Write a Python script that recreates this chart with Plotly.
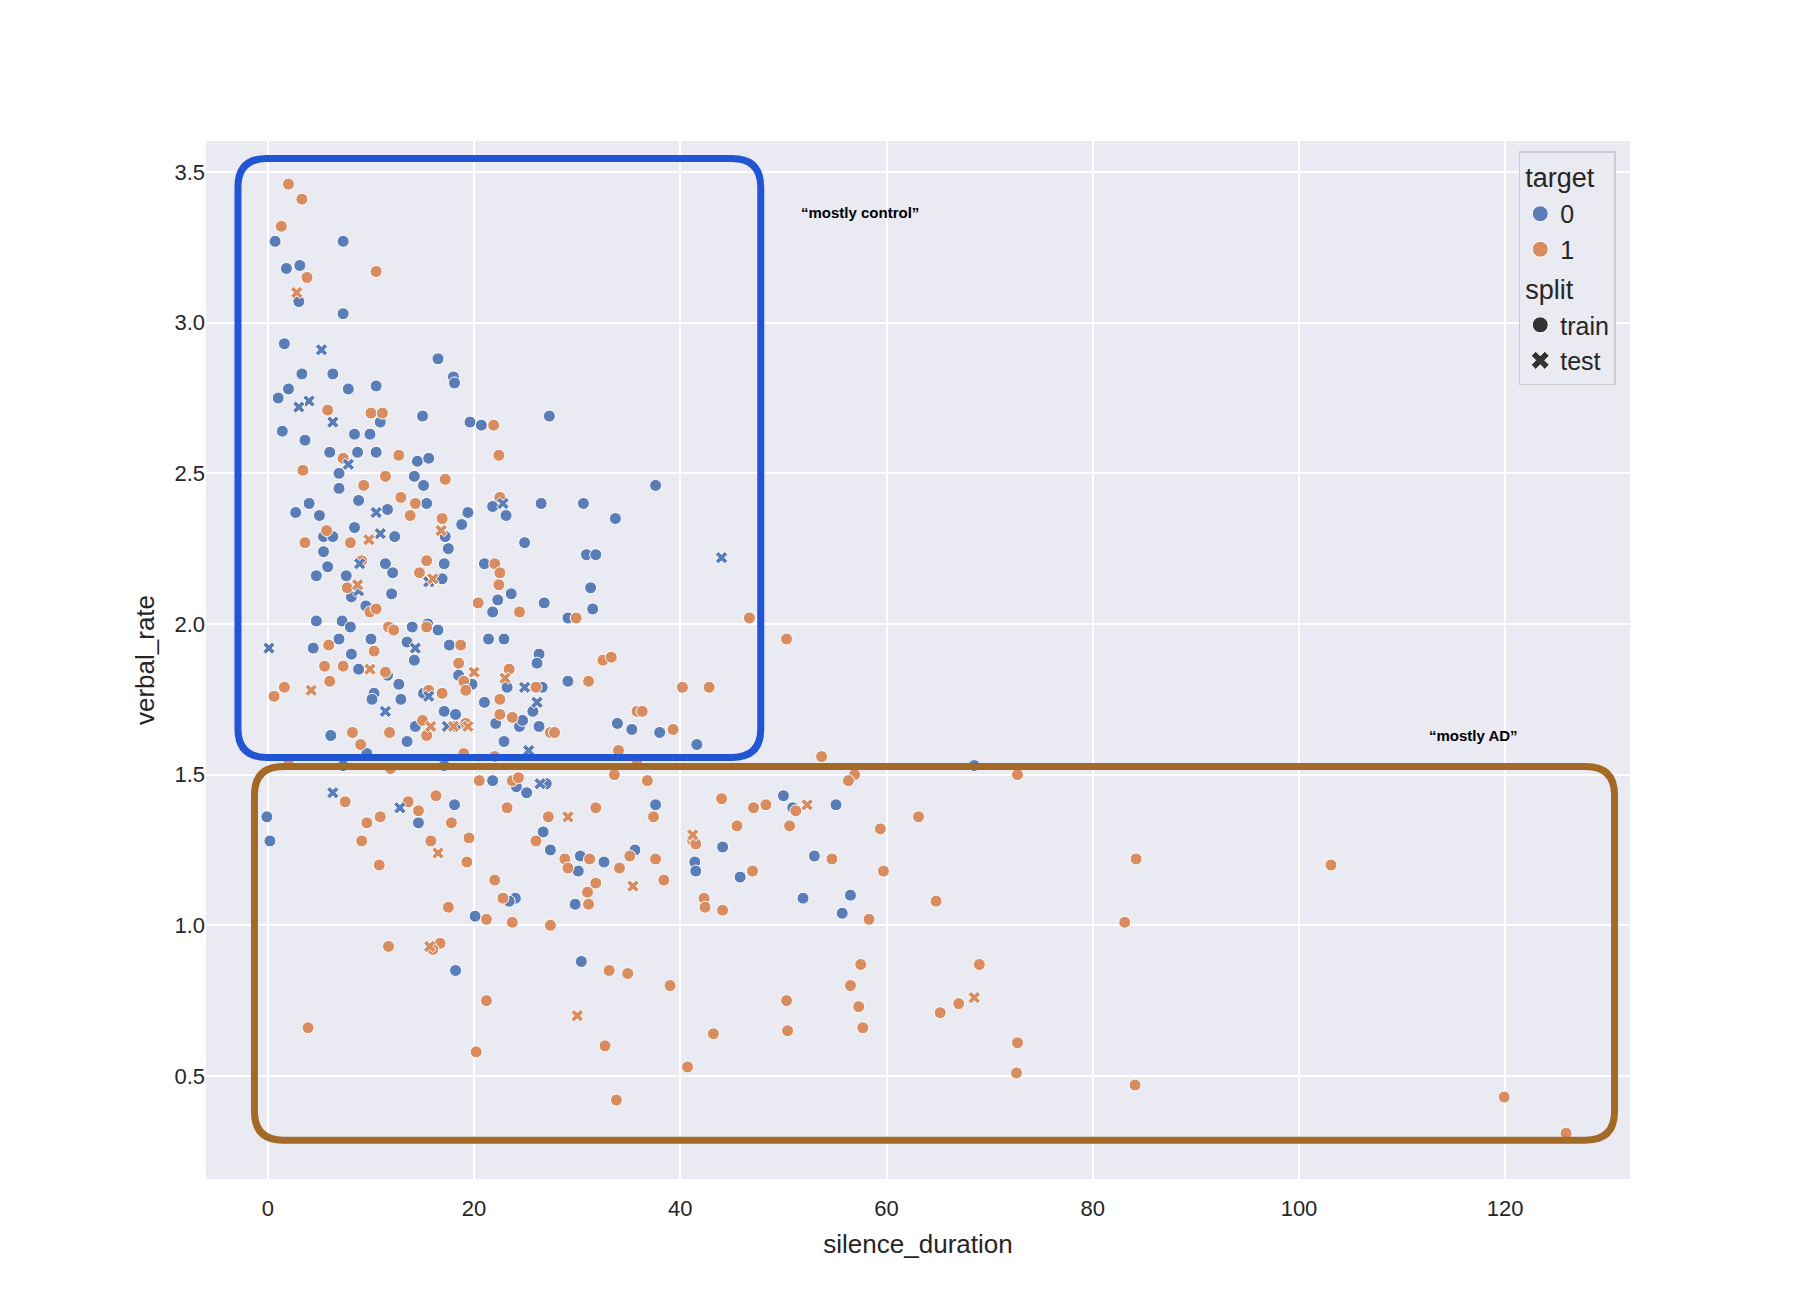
import plotly.graph_objects as go

# target 0, split train
t0_train_x = [0.7, 1.8, 3.1, 3.0, 7.3, 7.3, 1.6, 3.3, 6.3, 2.0, 1.0, 7.8, 10.5, 16.5, 18.0, 18.1, 1.4, 3.6,
              19.6, 20.7, 27.3, 15.0, 10.9, 8.4, 9.9, 6.0, 8.7, 10.5, 6.9, 14.5, 15.6, 6.9, 14.2, 15.1, 37.6,
              2.7, 4.0, 5.0, 8.8, 11.6, 15.4, 19.4, 26.5, 30.6, 33.7, 23.1, 21.8, 18.8, 5.4, 6.3, 8.4, 12.3,
              17.2, 17.5, 24.9, 30.9, 31.8, 5.4, 11.4, 17.1, 21.0, 5.8, 4.7, 7.6, 12.1, 16.9, 31.3, 12.0, 23.6,
              8.1, 22.3, 26.8, 9.5, 31.5, 21.8, 29.1, 4.7, 7.2, 14.0, 15.5, 8.0, 16.5, 6.9, 10.0, 21.4, 22.9,
              4.4, 13.5, 17.6, 8.1, 26.3, 14.2, 26.1, 8.8, 11.6, 18.5, 29.1, 12.7, 10.3, 19.8, 23.2, 26.6,
              10.1, 12.9, 15.1, 21.0, 25.7, 33.9, 17.1, 18.2, 18.2, 22.1, 24.4, 35.3, 22.9, 6.1, 13.5, 24.7,
              38.0, 41.6, 9.6, 14.3, 26.3, 7.3, 17.1, 68.5, 21.8, 24.1, 27.0, 25.1, 37.6, -0.1, 0.2, 18.1,
              14.6, 26.7, 27.4, 50.0, 50.9, 55.1, 35.6, 30.3, 32.6, 44.1, 53.0, 41.4, 41.5, 45.8, 30.1, 56.5,
              51.9, 24.0, 23.4, 29.8, 20.1, 55.7, 30.4, 18.2]
t0_train_y = [3.27, 3.18, 3.19, 3.07, 3.27, 3.03, 2.93, 2.83, 2.83, 2.78, 2.75, 2.78, 2.79, 2.88, 2.82, 2.80, 2.64, 2.61,
              2.67, 2.66, 2.69, 2.69, 2.67, 2.63, 2.63, 2.57, 2.57, 2.57, 2.50, 2.54, 2.55, 2.45, 2.49, 2.46, 2.46,
              2.37, 2.40, 2.36, 2.41, 2.38, 2.40, 2.37, 2.40, 2.40, 2.35, 2.36, 2.39, 2.33, 2.29, 2.29, 2.32, 2.29,
              2.29, 2.25, 2.27, 2.23, 2.23, 2.24, 2.20, 2.20, 2.20, 2.19, 2.16, 2.16, 2.17, 2.15, 2.12, 2.10, 2.10,
              2.09, 2.08, 2.07, 2.06, 2.05, 2.04, 2.02, 2.01, 2.01, 1.99, 2.00, 1.99, 1.98, 1.95, 1.95, 1.95, 1.95,
              1.92, 1.94, 1.93, 1.90, 1.90, 1.88, 1.87, 1.85, 1.83, 1.83, 1.81, 1.80, 1.77, 1.80, 1.79, 1.79,
              1.75, 1.75, 1.77, 1.74, 1.71, 1.67, 1.71, 1.70, 1.66, 1.67, 1.66, 1.65, 1.61, 1.63, 1.61, 1.68,
              1.64, 1.60, 1.57, 1.66, 1.66, 1.53, 1.53, 1.53, 1.48, 1.46, 1.47, 1.44, 1.40, 1.36, 1.28, 1.40,
              1.34, 1.31, 1.25, 1.43, 1.39, 1.40, 1.25, 1.23, 1.21, 1.26, 1.23, 1.21, 1.18, 1.16, 1.18, 1.10,
              1.09, 1.09, 1.08, 1.07, 1.03, 1.04, 0.88, 0.85]

# target 1, split train
t1_train_x = [2.0, 3.3, 1.3, 3.8, 10.5, 5.8, 10.0, 11.1, 21.9, 22.4, 12.7, 7.3, 3.4, 9.3, 11.4, 17.2, 12.9, 14.3,
              22.5, 13.8, 16.9, 3.6, 8.0, 5.7, 9.1, 15.4, 22.0, 14.7, 22.5, 22.4, 7.7, 20.4, 24.4, 9.9, 10.5,
              29.9, 46.7, 50.3, 11.7, 12.2, 15.4, 5.9, 5.5, 10.3, 7.3, 18.7, 18.5, 23.4, 32.5, 33.3, 31.1, 40.2,
              42.8, 6.0, 1.6, 0.6, 11.4, 19.0, 19.2, 26.0, 16.9, 15.6, 22.5, 35.8, 36.3, 22.5, 23.7, 19.2, 15.0,
              15.4, 8.2, 27.4, 27.8, 39.3, 11.8, 9.0, 34.0, 19.0, 22.0, 35.8, 53.7, 2.0, 11.9, 72.7, 56.9, 56.3,
              33.6, 36.8, 20.5, 23.7, 24.3, 7.5, 13.6, 16.3, 44.0, 23.2, 31.8, 47.1, 48.3, 51.2, 14.6, 9.6, 10.9,
              17.8, 27.2, 37.4, 45.5, 50.6, 59.4, 63.1, 9.1, 15.8, 19.5, 26.0, 41.2, 41.5, 28.8, 31.2, 35.1, 37.6,
              54.7, 84.2, 10.8, 19.3, 29.1, 34.1, 47.0, 59.7, 103.1, 22.0, 38.4, 31.8, 31.0, 22.8, 42.3, 31.1,
              64.8, 17.5, 42.4, 44.1, 21.2, 23.7, 27.4, 58.3, 83.1, 11.7, 16.7, 16.0, 33.1, 34.9, 57.5, 69.0,
              39.0, 56.5, 21.2, 50.3, 57.3, 67.0, 65.2, 3.9, 43.2, 50.4, 57.7, 72.7, 32.7, 20.2, 40.7, 72.6,
              84.1, 33.8, 119.9, 125.9]
t1_train_y = [3.46, 3.41, 3.32, 3.15, 3.17, 2.71, 2.70, 2.70, 2.66, 2.56, 2.56, 2.55, 2.51, 2.46, 2.49, 2.48, 2.42, 2.40,
              2.42, 2.36, 2.35, 2.27, 2.27, 2.31, 2.21, 2.21, 2.20, 2.17, 2.17, 2.13, 2.12, 2.07, 2.04, 2.04, 2.05,
              2.02, 2.02, 1.95, 1.99, 1.98, 1.99, 1.93, 1.86, 1.91, 1.86, 1.93, 1.87, 1.85, 1.88, 1.89, 1.81, 1.79,
              1.79, 1.81, 1.79, 1.76, 1.84, 1.81, 1.78, 1.79, 1.77, 1.78, 1.75, 1.71, 1.71, 1.70, 1.69, 1.67, 1.68,
              1.63, 1.64, 1.64, 1.64, 1.65, 1.64, 1.60, 1.58, 1.57, 1.56, 1.55, 1.56, 1.55, 1.52, 1.50, 1.50, 1.48,
              1.50, 1.48, 1.48, 1.48, 1.49, 1.41, 1.41, 1.43, 1.42, 1.39, 1.39, 1.39, 1.40, 1.38, 1.38, 1.34, 1.36,
              1.34, 1.36, 1.36, 1.33, 1.33, 1.32, 1.36, 1.28, 1.28, 1.29, 1.28, 1.28, 1.27, 1.22, 1.22, 1.23, 1.22,
              1.22, 1.22, 1.20, 1.21, 1.19, 1.19, 1.18, 1.18, 1.20, 1.15, 1.15, 1.14, 1.11, 1.09, 1.09, 1.07,
              1.08, 1.06, 1.06, 1.05, 1.02, 1.01, 1.00, 1.02, 1.01, 0.93, 0.94, 0.92, 0.85, 0.84, 0.87, 0.87,
              0.80, 0.80, 0.75, 0.75, 0.73, 0.74, 0.71, 0.66, 0.64, 0.65, 0.66, 0.61, 0.60, 0.58, 0.53, 0.51,
              0.47, 0.42, 0.43, 0.31]

# target 0, split test
t0_test_x = [0.1, 5.2, 4.0, 3.0, 6.3, 7.8, 10.5, 10.9, 8.9, 8.8, 15.6, 22.8, 44.0, 14.3, 11.4, 15.6, 24.9, 26.1,
             25.3, 26.4, 17.4, 12.8, 6.3]
t0_test_y = [1.92, 2.91, 2.74, 2.72, 2.67, 2.53, 2.37, 2.30, 2.20, 2.11, 2.14, 2.40, 2.22, 1.92, 1.71, 1.76, 1.79, 1.74,
             1.58, 1.47, 1.66, 1.39, 1.44]

# target 1, split test
t1_test_x = [2.8, 16.8, 9.8, 16.0, 8.7, 9.9, 20.0, 23.0, 4.2, 18.0, 19.4, 15.8, 16.5, 15.7, 29.1, 35.4, 41.2, 52.3,
             68.5, 30.0]
t1_test_y = [3.10, 2.31, 2.28, 2.15, 2.13, 1.85, 1.84, 1.82, 1.78, 1.66, 1.66, 1.66, 1.24, 0.93, 1.36, 1.13, 1.30, 1.40,
             0.76, 0.70]

BLUE = "#5A7DB8"
ORANGE = "#D98C5F"
msize = 12

fig = go.Figure()
for xs, ys, col, sym in [(t0_train_x, t0_train_y, BLUE, "circle"), (t1_train_x, t1_train_y, ORANGE, "circle"),
                         (t0_test_x, t0_test_y, BLUE, "x"), (t1_test_x, t1_test_y, ORANGE, "x")]:
    fig.add_trace(go.Scatter(x=xs, y=ys, mode="markers", showlegend=False, hoverinfo="skip",
                             marker=dict(color=col, symbol=sym, size=msize if sym == "circle" else 11,
                                         line=dict(color="white", width=1))))

# legend-only entries
for name, col, sym, grp, title in [("0", BLUE, "circle", "target", "target"), ("1", ORANGE, "circle", "target", None),
                                   ("train", "#333333", "circle", "split", "split"), ("test", "#333333", "x", "split", None)]:
    fig.add_trace(go.Scatter(x=[None], y=[None], mode="markers", name=name, legendgroup=grp,
                             legendgrouptitle_text=title,
                             marker=dict(color=col, symbol=sym, size=16, line=dict(color="white", width=1))))


def rounded_box(x0, y0, x1, y1, rx, ry):
    return (f"M {x0 + rx},{y1} L {x1 - rx},{y1} Q {x1},{y1} {x1},{y1 - ry} "
            f"L {x1},{y0 + ry} Q {x1},{y0} {x1 - rx},{y0} L {x0 + rx},{y0} "
            f"Q {x0},{y0} {x0},{y0 + ry} L {x0},{y1 - ry} Q {x0},{y1} {x0 + rx},{y1} Z")


fig.add_shape(type="path", path=rounded_box(-2.9, 1.557, 47.8, 3.545, 2.8, 0.095),
              line=dict(color="#2255D4", width=7), layer="above")
fig.add_shape(type="path", path=rounded_box(-1.3, 0.287, 130.6, 1.527, 2.8, 0.095),
              line=dict(color="#A26A26", width=7), layer="above")

fig.add_annotation(x=57.4, y=3.367, text="<b>“mostly control”</b>", showarrow=False,
                   font=dict(size=15, color="black", family="Liberation Sans"))
fig.add_annotation(x=116.9, y=1.629, text="<b>“mostly AD”</b>", showarrow=False,
                   font=dict(size=15, color="black", family="Liberation Sans"))

fig.update_layout(
    width=1796, height=1298,
    paper_bgcolor="white", plot_bgcolor="#EAEAF2",
    font=dict(family="Liberation Sans", size=22, color="#262626"),
    margin=dict(l=198, r=174, t=133, b=127),
    xaxis=dict(range=[-6.0, 132.1], tickvals=[0, 20, 40, 60, 80, 100, 120], gridcolor="white", gridwidth=1.5,
               zeroline=False, showline=False, ticks="", ticklabelstandoff=14,
               title=dict(text="silence_duration", standoff=14), tickfont=dict(size=22)),
    yaxis=dict(range=[0.158, 3.603], tickvals=[0.5, 1.0, 1.5, 2.0, 2.5, 3.0, 3.5], tickformat=".1f",
               gridcolor="white", gridwidth=1.5, zeroline=False, showline=False, ticks="",
               title=dict(text="verbal_rate", standoff=12), tickfont=dict(size=22)),
    legend=dict(x=0.99, y=0.99, xanchor="right", yanchor="top", bgcolor="#EAEAF2",
                bordercolor="#CCCCCC", borderwidth=1.5, font=dict(size=25), tracegroupgap=2,
                grouptitlefont=dict(size=27)),
)

fig.write_html("out.html")
